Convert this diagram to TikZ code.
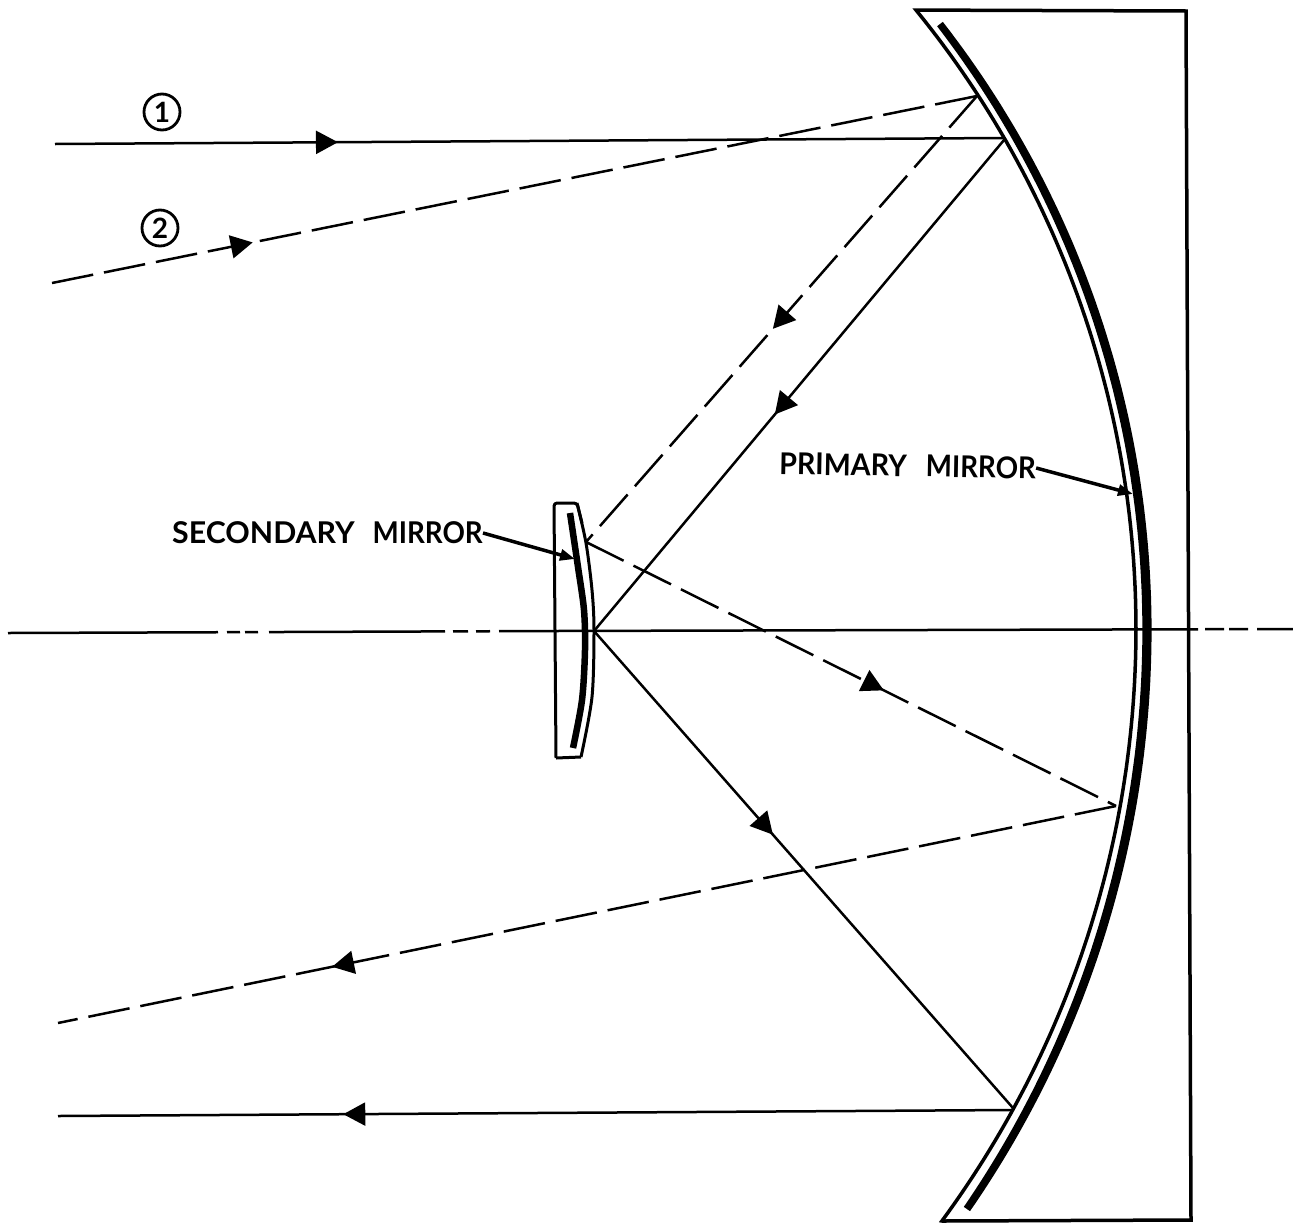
\documentclass[tikz,border=0pt]{standalone}
\usepackage{fontspec}
\setmainfont{Lato}
\usetikzlibrary{arrows.meta,decorations.markings}
\tikzset{
  ray/.style={line width=2.5pt},
  dashray/.style={line width=2.5pt,dash pattern=on 42pt off 11pt},
  rayarrow/.style={postaction={decorate,decoration={markings,mark=at position #1 with {\arrow{Triangle[length=22pt,width=23pt]}}}}},
  leader/.style={line width=3.5pt,-{Triangle[length=15pt,width=11pt]}},
  outline/.style={line width=3.5pt,line join=miter},
  mirrorlabel/.style={font=\fontsize{30}{30}\selectfont\bfseries,inner sep=0pt,anchor=west},
  rayno/.style={draw,circle,line width=2.8pt,minimum size=36pt,inner sep=0pt,font=\fontsize{28}{28}\selectfont\bfseries}
}
\begin{document}
\begin{tikzpicture}[x=1pt,y=-1pt]
\useasboundingbox (0,0) rectangle (1293,1229);
% ray end points
\coordinate (r1in) at (55,144);
\coordinate (p1) at (1003,138);
\coordinate (p1b) at (1004,140);
\coordinate (s1) at (594,631);
\coordinate (p3) at (1013,1108);
\coordinate (p3b) at (1012,1110);
\coordinate (r1out) at (58,1116);
\coordinate (r2in) at (52,283);
\coordinate (p2) at (977,96);
\coordinate (s2) at (586,542);
\coordinate (p4) at (1116,806);
\coordinate (r2out) at (58,1023);
\coordinate (primtip) at (1133,494);
\coordinate (sectip) at (575,559);
% primary mirror body
\draw[outline] plot[domain=-39.13:0,samples=60] ({155.2+980.8*cos(\x)},{629+980.8*sin(\x)})
  -- plot[domain=0:36.3,samples=60] ({136+1000*cos(\x)},{629+1000*sin(\x)})
  -- (942,1221) -- (1191,1220) -- (1186,11) -- cycle;
% primary mirror coating
\fill plot[domain=-37.72:0,samples=60] ({156.5+(990.5+4.6-0.0007*\x*\x)*cos(\x)},{630+(990.5+4.6-0.0007*\x*\x)*sin(\x)})
  -- plot[domain=0:34.55,samples=60] ({126+(1021+4.6-0.0007*\x*\x)*cos(\x)},{630+(1021+4.6-0.0007*\x*\x)*sin(\x)})
  -- plot[domain=34.55:0,samples=60] ({126+(1021-4.6+0.0007*\x*\x)*cos(\x)},{630+(1021-4.6+0.0007*\x*\x)*sin(\x)})
  -- plot[domain=0:-37.72,samples=60] ({156.5+(990.5-4.6+0.0007*\x*\x)*cos(\x)},{630+(990.5-4.6+0.0007*\x*\x)*sin(\x)})
  -- cycle;
% secondary mirror body
\draw[line width=3pt,line join=round,rounded corners=3pt] (556,758) -- (554,503) -- (577,503)
  -- (582,523);
\draw[line width=3pt,line join=round,rounded corners=3pt] (581,757) -- (556,758);
\draw[line width=3pt,line join=round] plot[smooth] coordinates {(577,503) (586,543) (592,590) (594,630) (592,697) (581,757)};
\draw[line width=6.5pt] plot[smooth] coordinates {(570,513) (578,567) (584,610) (585,650) (582,700) (573,748)};
% axis
\draw[line width=2.5pt,dash pattern=on 210pt off 9pt on 13pt off 5pt on 13pt off 11pt on 176pt off 8pt on 15pt off 8pt on 14pt off 9pt on 699pt off 7pt on 19pt off 5pt on 19pt off 9pt on 36pt] (8,633) -- (555,631) -- (1293,629);
% rays
\draw[ray,rayarrow=0.2985] (r1in) -- (p1);
\draw[ray,rayarrow=0.559] (p1b) -- (s1);
\draw[ray,rayarrow=0.427] (s1) -- (p3);
\draw[ray,rayarrow=0.701] (p3b) -- (r1out);
\draw[dashray,rayarrow=0.217] (r2in) -- (p2);
\draw[dashray,rayarrow=0.522] (p2) -- (s2);
\draw[dashray,rayarrow=0.562] (s2) -- (p4);
\draw[dashray,rayarrow=0.741] (p4) -- (r2out);
% labels
\node[rayno] (no1) at (162,112) {1};
\node[rayno] (no2) at (160,228) {2};
\node[mirrorlabel] (seclabel) at (172,533) {\scalebox{1.01}[1]{SECONDARY}\hspace{18pt}\scalebox{0.925}[1]{MIRROR}};
\node[mirrorlabel,rotate=-1] (primlabel) at (779,463.5) {\scalebox{0.955}[1]{PRIMARY}\hspace{19pt}\scalebox{0.925}[1]{MIRROR}};
\draw[leader] (seclabel.east) -- (sectip);
\draw[leader] (primlabel.east) -- (primtip);
\end{tikzpicture}
\end{document}
